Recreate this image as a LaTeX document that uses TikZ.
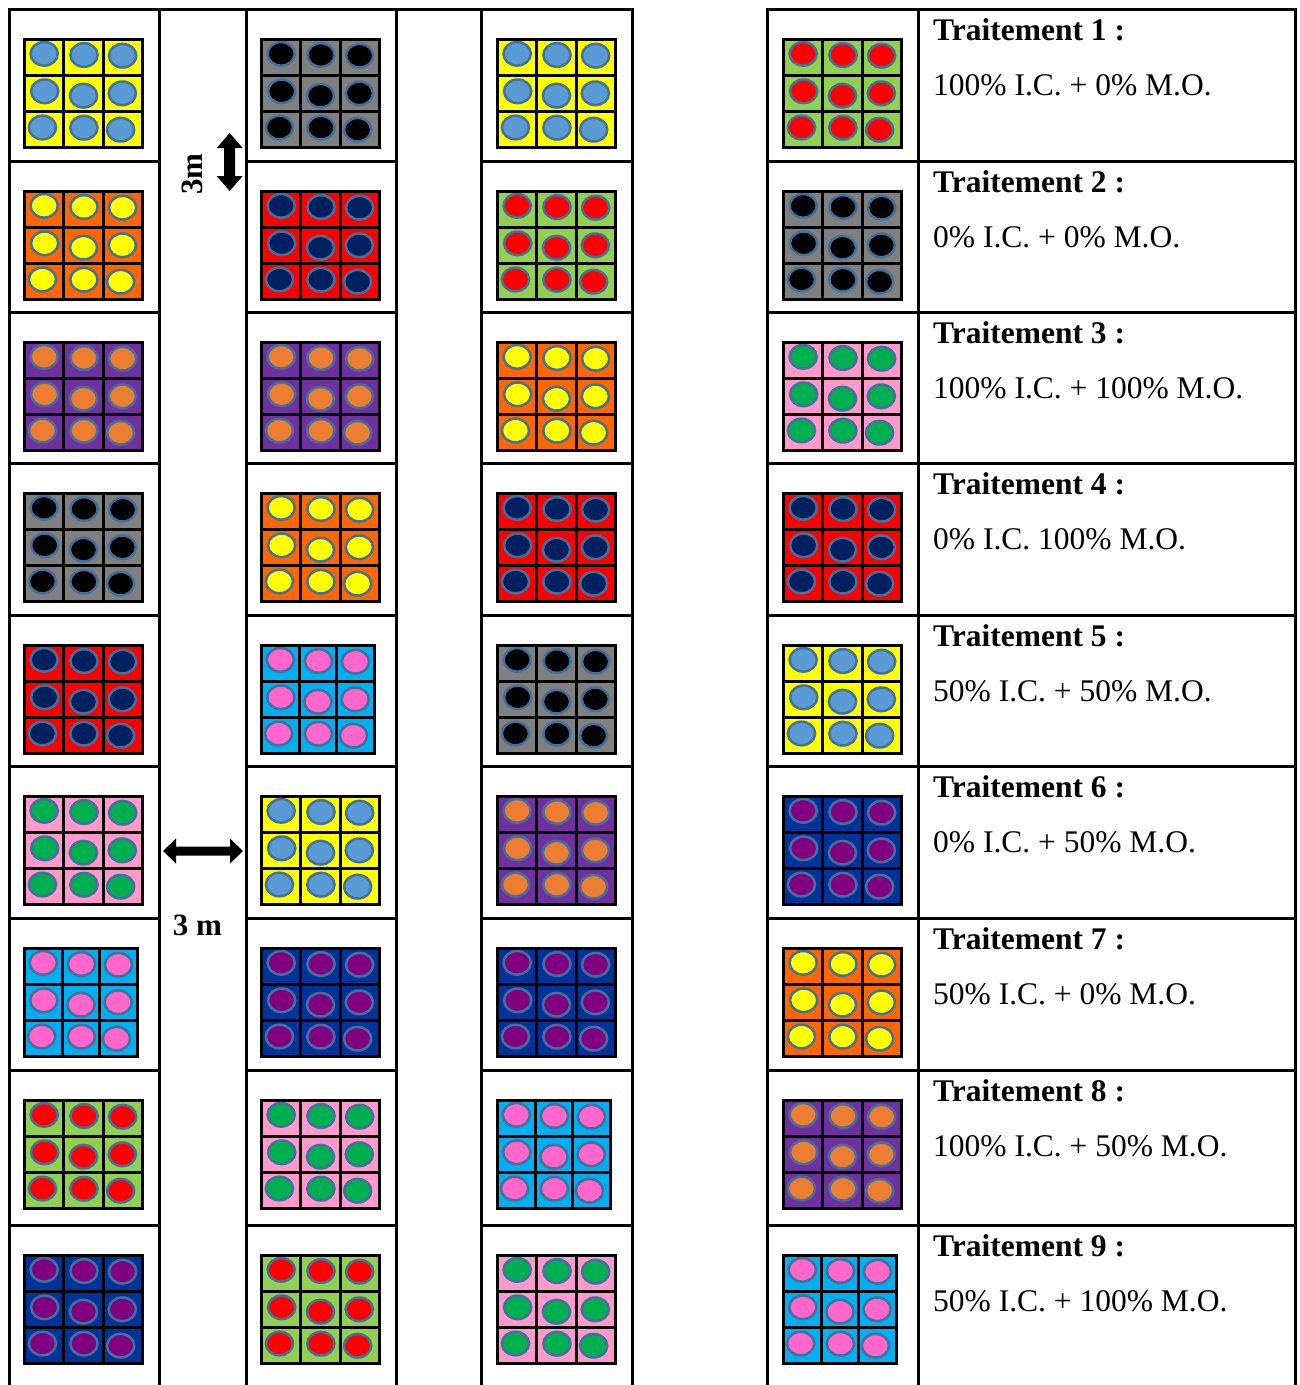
\documentclass[tikz,border=0pt]{standalone}
\usepackage{fontspec}
\setmainfont{Liberation Serif}
\definecolor{cstroke}{HTML}{41719C}
% plot types: background (bg) and dot (dt) colours
\definecolor{bgY}{HTML}{FFFF00}\definecolor{dtY}{HTML}{5B9BD5}
\definecolor{bgO}{HTML}{FF6600}\definecolor{dtO}{HTML}{FFFF00}
\definecolor{bgP}{HTML}{7030A0}\definecolor{dtP}{HTML}{ED7D31}
\definecolor{bgG}{HTML}{808080}\definecolor{dtG}{HTML}{000000}
\definecolor{bgR}{HTML}{FF0000}\definecolor{dtR}{HTML}{002060}
\definecolor{bgK}{HTML}{FF99CC}\definecolor{dtK}{HTML}{00B050}
\definecolor{bgC}{HTML}{00B0F0}\definecolor{dtC}{HTML}{FF66CC}
\definecolor{bgV}{HTML}{92D050}\definecolor{dtV}{HTML}{FF0000}
\definecolor{bgN}{HTML}{003399}\definecolor{dtN}{HTML}{800080}
\def\wY{118}\def\wO{118}\def\wP{118}\def\wG{118}\def\wR{118}
\def\wK{118}\def\wC{113}\def\wV{118}\def\wN{118}
\newcommand{\parc}[4]{% #1 name, #2 x, #3 y (top), #4 type
  \pgfmathsetmacro{\pw}{\csname w#4\endcsname}%
  \pgfmathsetmacro{\cw}{\pw/3}%
  \def\ph{108}%
  \pgfmathsetmacro{\chh}{\ph/3}%
  \coordinate (#1) at (#2,#3);
  \fill[bg#4] (#1) rectangle ++(\pw,\ph);
  \foreach \ci/\ri/\ddx/\ddy in {0/0/0/-3.7,1/0/0.5/-2.5,2/0/-0.2/-1.8,
                                 0/1/0.5/-2.2,1/1/0/2.2,2/1/-0.5/-0.2,
                                 0/2/-1.7/-2,1/2/0.4/-1.8,2/2/-2.2/0.2}
    \draw[dotline, fill=dt#4] ({#2+(\ci+0.5)*\cw+\ddx},{#3+(\ri+0.5)*\chh+\ddy})
       ellipse [x radius=13.6pt, y radius=11.8pt];
  \draw[gridline] (#1) rectangle ++(\pw,\ph);
  \draw[gridline] ({#2+\cw},#3) -- ++(0,\ph) ({#2+2*\cw},#3) -- ++(0,\ph)
                  (#2,{#3+\chh}) -- ++(\pw,0) (#2,{#3+2*\chh}) -- ++(\pw,0);
}
\begin{document}
\begin{tikzpicture}[x=1pt,y=-1pt,
  tline/.style={line width=3pt, line cap=rect},
  gridline/.style={line width=3pt, line join=miter},
  dotline/.style={draw=cstroke, line width=2.5pt},
  ttitle/.style={font=\fontsize{31.5}{36}\selectfont\bfseries, inner sep=0pt, anchor=base west},
  tdesc/.style={font=\fontsize{31.5}{36}\selectfont, inner sep=0pt, anchor=base west},
  dimlbl/.style={font=\fontsize{31}{36}\selectfont\bfseries, inner sep=0pt},
  dimarrow/.style={fill=black},
]
\useasboundingbox (0,0) rectangle (1300,1385);
% ---- plots ----
\foreach \r/\yt/\ta/\tb/\tc/\td in {1/39.5/Y/G/Y/V, 2/191.5/O/R/V/G, 3/342.5/P/P/O/K,
    4/493.5/G/O/R/R, 5/645.5/R/C/G/Y, 6/796.5/K/Y/P/N, 7/948.5/C/N/N/O,
    8/1100.5/V/K/C/P, 9/1255.5/N/V/K/C} {
  \edef\tmp{\noexpand\parc{pA\r}{24.5}{\yt}{\ta}%
            \noexpand\parc{pB\r}{261.5}{\yt}{\tb}%
            \noexpand\parc{pC\r}{497.5}{\yt}{\tc}%
            \noexpand\parc{pT\r}{783.5}{\yt}{\td}}%
  \tmp
}
% ---- left table ----
\draw[tline] (9,9) -- (632,9);
\foreach \xx in {9,159,246,396,481,632} \draw[tline] (\xx,9) -- (\xx,1390);
\foreach \yy in {161,312,463,615,766,918,1070,1225}
  \draw[tline] (9,\yy) -- (159,\yy) (246,\yy) -- (396,\yy) (481,\yy) -- (632,\yy);
% ---- right table ----
\draw[tline] (767,9) -- (1295,9);
\foreach \xx in {767,918,1295} \draw[tline] (\xx,9) -- (\xx,1390);
\foreach \yy in {161,312,463,615,766,918,1070,1225}
  \draw[tline] (767,\yy) -- (1295,\yy);
% ---- treatments ----
\foreach \r/\yt/\txt in {1/9/{100\% I.C. + 0\% M.O.}, 2/161/{0\% I.C. + 0\% M.O.},
    3/312/{100\% I.C. + 100\% M.O.}, 4/463/{0\% I.C. 100\% M.O.},
    5/615/{50\% I.C. + 50\% M.O.}, 6/766/{0\% I.C. + 50\% M.O.},
    7/918/{50\% I.C. + 0\% M.O.}, 8/1070/{100\% I.C. + 50\% M.O.},
    9/1225/{50\% I.C. + 100\% M.O.}} {
  \node[ttitle] (tt\r) at (933,\yt+31) {Traitement \r{} :};
  \node[tdesc] (td\r) at (933,\yt+86) {\txt};
}
% ---- dimensions ----
\node[dimlbl, rotate=90] (lblv) at (192.5,174) {3m};
\node[dimlbl, anchor=base] (lblh) at (197.5,935) {3 m};
\coordinate (va) at (229.7,133);
\coordinate (vb) at (229.7,191);
\fill[dimarrow] (va) -- (242.7,148) -- (235.2,148) -- (235.2,176) -- (242.7,176) -- (vb)
  -- (216.7,176) -- (224.2,176) -- (224.2,148) -- (216.7,148) -- cycle;
\coordinate (ha) at (163,851);
\coordinate (hb) at (243,851);
\fill[dimarrow] (ha) -- (176,838.5) -- (176,846.5) -- (230,846.5) -- (230,838.5) -- (hb)
  -- (230,863.5) -- (230,855.5) -- (176,855.5) -- (176,863.5) -- cycle;
\end{tikzpicture}
\end{document}
